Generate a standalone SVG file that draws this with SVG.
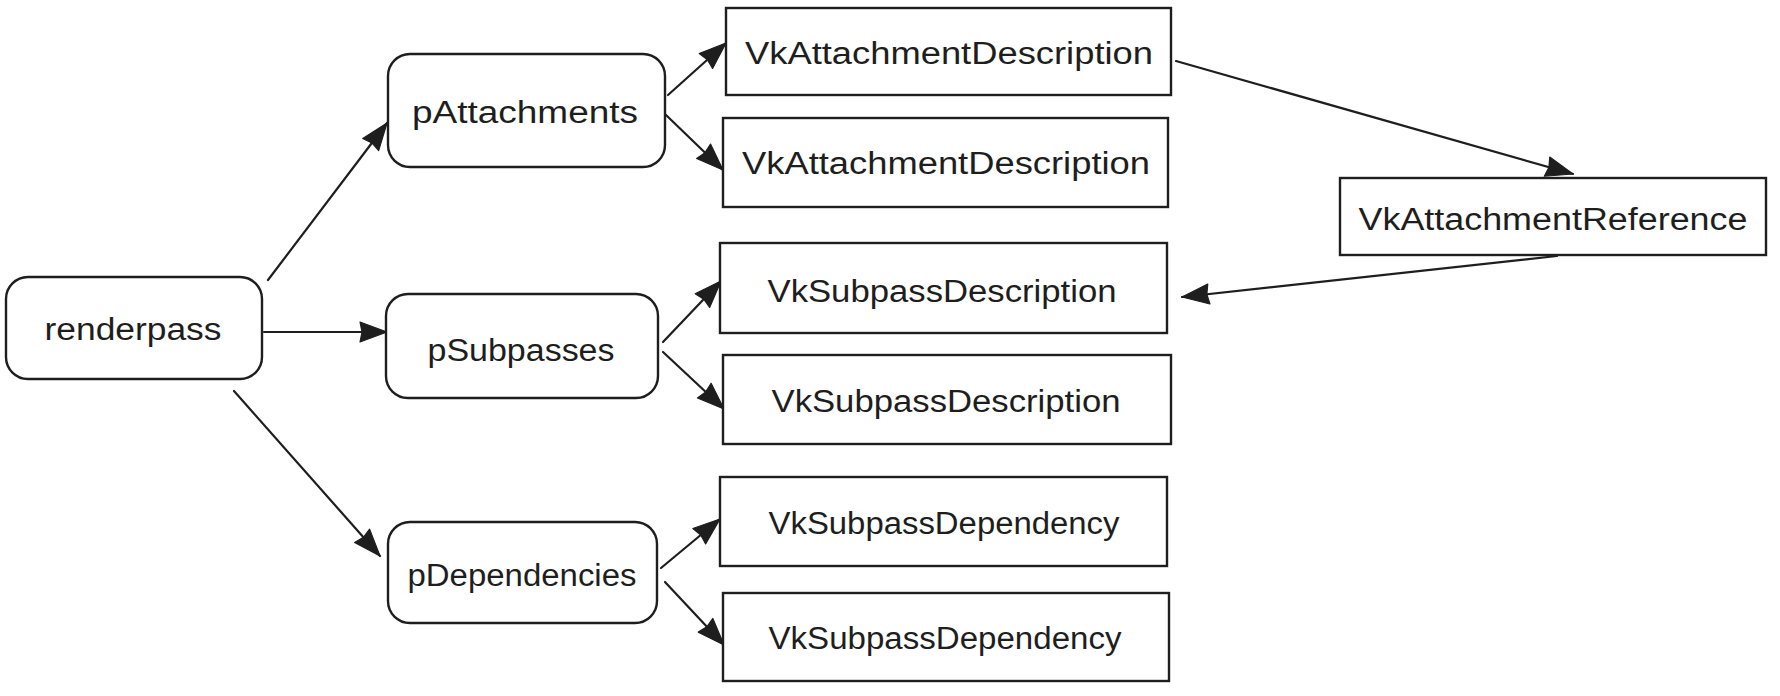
<svg xmlns="http://www.w3.org/2000/svg" width="1780" height="696" viewBox="0 0 1780 696">
  <defs>
    <style>
      .box { fill: #ffffff; stroke: #1e1e1e; stroke-width: 2.4; }
      .lbl { font-family: "Liberation Sans", Arial, sans-serif; font-size: 31px; fill: #1e1e1e; text-anchor: middle; dominant-baseline: central; }
      .edge { fill: none; stroke: #1e1e1e; stroke-width: 2.2; stroke-linecap: round; marker-end: url(#arrow); }
    </style>
    <marker id="arrow" markerUnits="userSpaceOnUse" markerWidth="32" markerHeight="26" refX="28" refY="12" orient="auto">
      <path d="M1,2 L28,12 L1,22 L3,12 Z" fill="#1e1e1e" stroke="#1e1e1e" stroke-width="1.2" stroke-linejoin="round"/>
    </marker>
  </defs>
  <rect width="1780" height="696" fill="#ffffff"/>

  <g id="connectors">
    <line class="edge" x1="268" y1="280" x2="387" y2="123"/>
    <line class="edge" x1="264" y1="332" x2="387" y2="332"/>
    <line class="edge" x1="234" y1="391" x2="380" y2="556"/>
    <line class="edge" x1="668" y1="95" x2="726" y2="43"/>
    <line class="edge" x1="666" y1="115" x2="723" y2="170"/>
    <line class="edge" x1="663" y1="342" x2="721" y2="281"/>
    <line class="edge" x1="663" y1="352" x2="724" y2="409"/>
    <line class="edge" x1="661" y1="568" x2="720" y2="519"/>
    <line class="edge" x1="665" y1="582" x2="724" y2="645"/>
    <line class="edge" x1="1176" y1="61" x2="1573" y2="174"/>
    <line class="edge" x1="1557" y1="256" x2="1182" y2="297"/>
  </g>

  <g id="renderpass">
    <rect class="box" x="6" y="277" width="256" height="102" rx="22"/>
    <text class="lbl" x="133" y="329" textLength="177" lengthAdjust="spacingAndGlyphs">renderpass</text>
  </g>
  <g id="pAttachments">
    <rect class="box" x="388" y="54" width="277" height="113" rx="22"/>
    <text class="lbl" x="525" y="112" textLength="226" lengthAdjust="spacingAndGlyphs">pAttachments</text>
  </g>
  <g id="pSubpasses">
    <rect class="box" x="386" y="294" width="272" height="104" rx="22"/>
    <text class="lbl" x="521" y="350" textLength="187" lengthAdjust="spacingAndGlyphs">pSubpasses</text>
  </g>
  <g id="pDependencies">
    <rect class="box" x="388" y="522" width="269" height="101" rx="22"/>
    <text class="lbl" x="522" y="575" textLength="229" lengthAdjust="spacingAndGlyphs">pDependencies</text>
  </g>

  <g id="attDesc1">
    <rect class="box" x="726" y="8" width="445" height="87"/>
    <text class="lbl" x="949" y="53" textLength="408" lengthAdjust="spacingAndGlyphs">VkAttachmentDescription</text>
  </g>
  <g id="attDesc2">
    <rect class="box" x="723" y="118" width="445" height="89"/>
    <text class="lbl" x="946" y="163" textLength="408" lengthAdjust="spacingAndGlyphs">VkAttachmentDescription</text>
  </g>
  <g id="subDesc1">
    <rect class="box" x="720" y="243" width="447" height="90"/>
    <text class="lbl" x="942" y="291" textLength="349" lengthAdjust="spacingAndGlyphs">VkSubpassDescription</text>
  </g>
  <g id="subDesc2">
    <rect class="box" x="723" y="355" width="448" height="89"/>
    <text class="lbl" x="946" y="401" textLength="349" lengthAdjust="spacingAndGlyphs">VkSubpassDescription</text>
  </g>
  <g id="subDep1">
    <rect class="box" x="720" y="477" width="447" height="89"/>
    <text class="lbl" x="944" y="523" textLength="351" lengthAdjust="spacingAndGlyphs">VkSubpassDependency</text>
  </g>
  <g id="subDep2">
    <rect class="box" x="723" y="593" width="446" height="88"/>
    <text class="lbl" x="945" y="638" textLength="353" lengthAdjust="spacingAndGlyphs">VkSubpassDependency</text>
  </g>
  <g id="attRef">
    <rect class="box" x="1340" y="178" width="426" height="77"/>
    <text class="lbl" x="1553" y="219" textLength="389" lengthAdjust="spacingAndGlyphs">VkAttachmentReference</text>
  </g>
</svg>
